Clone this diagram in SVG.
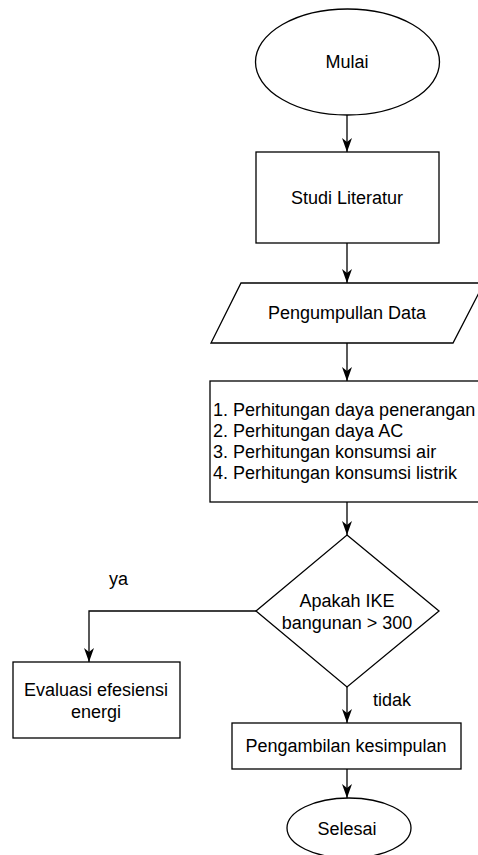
<svg xmlns="http://www.w3.org/2000/svg" width="478" height="855" viewBox="0 0 478 855">
<style>
.s{fill:#fff;stroke:#000;stroke-width:1.3}
.t{font-family:"Liberation Sans",Arial,sans-serif;font-size:18px;fill:#000}
.c{text-anchor:middle}
.e{fill:none;stroke:#000;stroke-width:1.3}
</style>
<defs>
<marker id="arr" viewBox="0 0 14 10" refX="14" refY="5" markerWidth="14" markerHeight="10" markerUnits="userSpaceOnUse" orient="auto">
<path d="M0,0 L14,5 L0,10 L4,5 Z" fill="#000"/>
</marker>
</defs>
<rect width="478" height="855" fill="#fff"/>
<g id="edges">
<path class="e" d="M347,115 L347,152" marker-end="url(#arr)"/>
<path class="e" d="M347,243 L347,283" marker-end="url(#arr)"/>
<path class="e" d="M347,343 L347,381" marker-end="url(#arr)"/>
<path class="e" d="M347,502 L347,535" marker-end="url(#arr)"/>
<path class="e" d="M256,611 L89,611 L89,662" marker-end="url(#arr)"/>
<path class="e" d="M347,687 L347,723" marker-end="url(#arr)"/>
<path class="e" d="M347,769 L347,798" marker-end="url(#arr)"/>
<text class="t" x="109" y="585">ya</text>
<text class="t" x="373" y="706">tidak</text>
</g>
<g id="mulai">
<ellipse class="s" cx="347.5" cy="62" rx="92" ry="53"/>
<text class="t c" x="347" y="68">Mulai</text>
</g>
<g id="studi">
<rect class="s" x="256" y="152" width="183" height="91"/>
<text class="t c" x="347" y="204">Studi Literatur</text>
</g>
<g id="data">
<polygon class="s" points="241,283 484,283 453,343 211,343"/>
<text class="t c" x="347" y="319">Pengumpullan Data</text>
</g>
<g id="hitung">
<rect class="s" x="210" y="381" width="280" height="121"/>
<text class="t" x="213" y="416">1. Perhitungan daya penerangan</text>
<text class="t" x="213" y="437">2. Perhitungan daya AC</text>
<text class="t" x="213" y="458">3. Perhitungan konsumsi air</text>
<text class="t" x="213" y="479">4. Perhitungan konsumsi listrik</text>
</g>
<g id="ike">
<polygon class="s" points="347,535 439,611 347,687 256,611"/>
<text class="t c" x="347" y="607">Apakah IKE</text>
<text class="t c" x="347" y="629">bangunan &gt; 300</text>
</g>
<g id="evaluasi">
<rect class="s" x="13" y="662" width="167" height="76"/>
<text class="t c" x="96" y="696">Evaluasi efesiensi</text>
<text class="t c" x="96" y="718">energi</text>
</g>
<g id="simpul">
<rect class="s" x="232" y="723" width="229" height="46"/>
<text class="t c" x="346" y="752">Pengambilan kesimpulan</text>
</g>
<g id="selesai">
<ellipse class="s" cx="349" cy="828" rx="62" ry="30"/>
<text class="t c" x="347" y="835">Selesai</text>
</g>
</svg>
